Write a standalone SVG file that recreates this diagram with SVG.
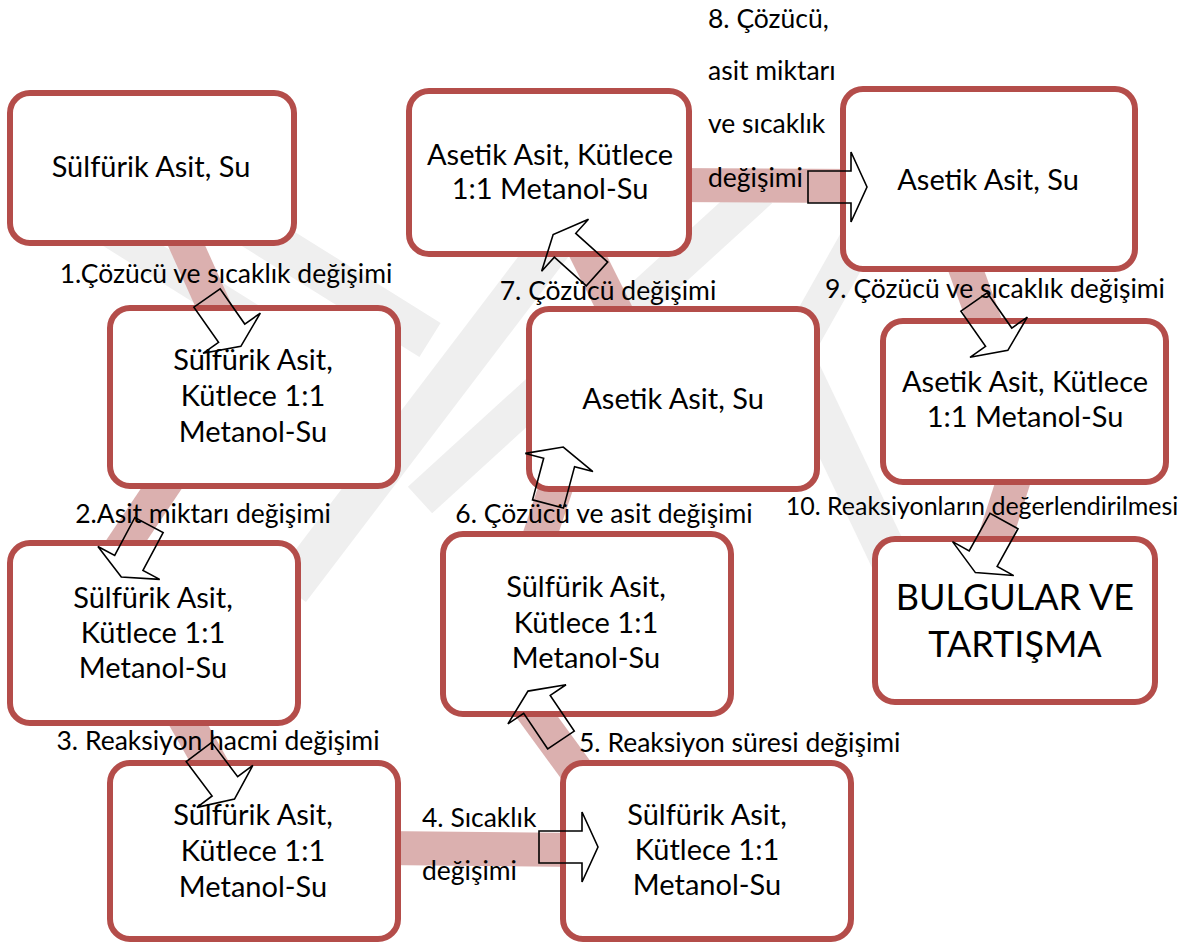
<svg xmlns="http://www.w3.org/2000/svg" xmlns:xlink="http://www.w3.org/1999/xlink" width="1188" height="944" viewBox="0 0 1188 944">
  <style>
    .wm { stroke: #efefef; fill: none; stroke-linecap: butt; }
    .link { stroke: #dbb0af; stroke-width: 34; fill: none; stroke-linecap: butt; }
    .box { fill: #ffffff; stroke: #b44d4a; stroke-width: 6; }
    .arrow { fill: none; stroke: #000000; stroke-width: 1.6; stroke-linejoin: miter; }
    .t { font-family: Lato, "Liberation Sans", sans-serif; fill: #000000; }
    .bt { font-size: 29px; text-anchor: middle; }
    .big { font-size: 36px; text-anchor: middle; }
    .lbl { font-size: 26.5px; }
    .lbl-c { font-size: 26.5px; text-anchor: middle; }
  </style>
  <defs>
    <!-- flat-headed block arrow pointing along +x, tail centred on the origin -->
    <path id="arr" d="M0,-16 H43 V-35 L59,0 L43,35 V16 H0 Z"/>
  </defs>

  <rect width="1188" height="944" fill="#ffffff"/>

  <!-- faint background emblem -->
  <g id="emblem">
    <line class="wm" stroke-width="32" x1="95" y1="222" x2="335" y2="372"/>
    <line class="wm" stroke-width="40" x1="230" y1="215" x2="430" y2="340"/>
    <line class="wm" stroke-width="40" x1="290" y1="590" x2="575" y2="215"/>
    <line class="wm" stroke-width="36" x1="420" y1="500" x2="760" y2="190"/>
    <line class="wm" stroke-width="36" x1="790" y1="360" x2="880" y2="200"/>
    <line class="wm" stroke-width="40" x1="800" y1="370" x2="900" y2="580"/>
  </g>

  <!-- wide links between the steps -->
  <g id="connectors">
    <line class="link" x1="166" y1="200" x2="229" y2="340"/>
    <line class="link" x1="194" y1="440" x2="110" y2="565"/>
    <line class="link" x1="180" y1="710" x2="230" y2="798"/>
    <line class="link" x1="380" y1="848" x2="580" y2="850"/>
    <line class="link" x1="510" y1="680" x2="600" y2="803"/>
    <line class="link" x1="535" y1="550" x2="565" y2="460"/>
    <line class="link" x1="575" y1="230" x2="630" y2="340"/>
    <line class="link" x1="670" y1="185" x2="860" y2="186"/>
    <line class="link" x1="955" y1="240" x2="995" y2="350"/>
    <line class="link" x1="1020" y1="460" x2="985" y2="570"/>
  </g>

  <g id="n1">
    <rect class="box" x="10" y="93" width="284" height="150" rx="20"/>
    <text class="t bt" x="151" y="177">Sülfürik Asit, Su</text>
  </g>
  <g id="n2">
    <rect class="box" x="110" y="308" width="288" height="178" rx="20"/>
    <text class="t bt" x="253" y="370">Sülfürik Asit,</text>
    <text class="t bt" x="253" y="406">Kütlece 1:1</text>
    <text class="t bt" x="253" y="442">Metanol-Su</text>
  </g>
  <g id="n3">
    <rect class="box" x="10" y="543" width="288" height="180" rx="20"/>
    <text class="t bt" x="153" y="608">Sülfürik Asit,</text>
    <text class="t bt" x="153" y="643">Kütlece 1:1</text>
    <text class="t bt" x="153" y="678">Metanol-Su</text>
  </g>
  <g id="n4">
    <rect class="box" x="110" y="763" width="288" height="176" rx="20"/>
    <text class="t bt" x="253" y="825">Sülfürik Asit,</text>
    <text class="t bt" x="253" y="861">Kütlece 1:1</text>
    <text class="t bt" x="253" y="897">Metanol-Su</text>
  </g>
  <g id="n5">
    <rect class="box" x="563" y="763" width="288" height="176" rx="20"/>
    <text class="t bt" x="707" y="825">Sülfürik Asit,</text>
    <text class="t bt" x="707" y="860">Kütlece 1:1</text>
    <text class="t bt" x="707" y="895">Metanol-Su</text>
  </g>
  <g id="n6">
    <rect class="box" x="443" y="534" width="288" height="180" rx="20"/>
    <text class="t bt" x="586" y="597">Sülfürik Asit,</text>
    <text class="t bt" x="586" y="633">Kütlece 1:1</text>
    <text class="t bt" x="586" y="668">Metanol-Su</text>
  </g>
  <g id="n7">
    <rect class="box" x="529" y="309" width="288" height="180" rx="20"/>
    <text class="t bt" x="673" y="409">Asetik Asit, Su</text>
  </g>
  <g id="n8">
    <rect class="box" x="409" y="91" width="280" height="163" rx="20"/>
    <text class="t bt" x="550" y="165">Asetik Asit, Kütlece</text>
    <text class="t bt" x="550" y="199">1:1 Metanol-Su</text>
  </g>
  <g id="n9">
    <rect class="box" x="843" y="89" width="292" height="180" rx="20"/>
    <text class="t bt" x="988" y="190">Asetik Asit, Su</text>
  </g>
  <g id="n10">
    <rect class="box" x="883" y="321" width="283" height="161" rx="20"/>
    <text class="t bt" x="1025" y="392">Asetik Asit, Kütlece</text>
    <text class="t bt" x="1025" y="427">1:1 Metanol-Su</text>
  </g>
  <g id="n11">
    <rect class="box" x="875" y="539" width="280" height="163" rx="20"/>
    <text class="t big" x="1015" y="610">BULGULAR VE</text>
    <text class="t big" x="1015" y="657">TARTIŞMA</text>
  </g>

  <!-- direction arrows drawn over the links -->
  <g id="arrows">
    <use class="arrow" xlink:href="#arr" transform="translate(207,298) rotate(55)"/>
    <use class="arrow" xlink:href="#arr" transform="translate(149,525) rotate(118)"/>
    <use class="arrow" xlink:href="#arr" transform="translate(199,752) rotate(53)"/>
    <use class="arrow" xlink:href="#arr" transform="translate(539,847) rotate(0)"/>
    <use class="arrow" xlink:href="#arr" transform="translate(561,740) rotate(236)"/>
    <use class="arrow" xlink:href="#arr" transform="translate(548,504) rotate(285)"/>
    <use class="arrow" xlink:href="#arr" transform="translate(597,274) rotate(222)"/>
    <use class="arrow" xlink:href="#arr" transform="translate(808,187) rotate(0)"/>
    <use class="arrow" xlink:href="#arr" transform="translate(974,302) rotate(55)"/>
    <use class="arrow" xlink:href="#arr" transform="translate(1004,521) rotate(119)"/>
  </g>

  <!-- step labels -->
  <g id="labels">
    <text class="t lbl-c" x="226" y="283">1.Çözücü ve sıcaklık değişimi</text>
    <text class="t lbl-c" x="203" y="523">2.Asit miktarı değişimi</text>
    <text class="t lbl-c" x="218" y="750">3. Reaksiyon hacmi değişimi</text>
    <text class="t lbl" x="422" y="827">4. Sıcaklık</text>
    <text class="t lbl" x="422" y="880">değişimi</text>
    <text class="t lbl" x="579" y="752">5. Reaksiyon süresi değişimi</text>
    <text class="t lbl-c" x="604" y="523">6. Çözücü ve asit değişimi</text>
    <text class="t lbl-c" x="608" y="300">7. Çözücü değişimi</text>
    <text class="t lbl" x="708" y="28">8. Çözücü,</text>
    <text class="t lbl" x="708" y="80">asit miktarı</text>
    <text class="t lbl" x="708" y="133">ve sıcaklık</text>
    <text class="t lbl" x="708" y="187">değişimi</text>
    <text class="t lbl-c" x="995" y="298">9. Çözücü ve sıcaklık değişimi</text>
    <text class="t lbl-c" x="982" y="515" style="font-size:25px">10. Reaksiyonların değerlendirilmesi</text>
  </g>
</svg>
